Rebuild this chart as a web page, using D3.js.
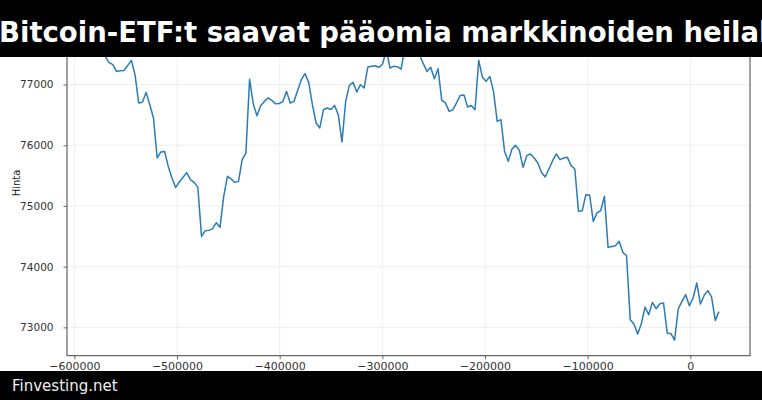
<!DOCTYPE html>
<html><head><meta charset="utf-8">
<script src="https://cdn.jsdelivr.net/npm/d3@7"></script>
<style>
html,body{margin:0;padding:0;background:#fff;}
svg{display:block;}
</style></head>
<body>
<script>
const titleText = "Bitcoin-ETF:t saavat pääomia markkinoiden heilahteluista";
const footerText = "Finvesting.net";
const yLabel = "Hinta";
const xTicks = [-600000, -500000, -400000, -300000, -200000, -100000, 0];
const yTicks = [73000, 74000, 75000, 76000, 77000];
const xValues = [-576900,-573300,-569700,-566100,-562500,-558900,-555300,-551700,-548100,-544500,
-540900,-537300,-533700,-530100,-526500,-522900,-519300,-515700,-512100,-508500,
-504900,-501300,-497700,-494100,-490500,-486900,-483300,-479700,-476100,-472500,
-468900,-465300,-461700,-458100,-454500,-450900,-447300,-443700,-440100,-436500,
-432900,-429300,-425700,-422100,-418500,-414900,-411300,-407700,-404100,-400500,
-396900,-393300,-389700,-386100,-382500,-378900,-375300,-371700,-368100,-364500,
-360900,-357300,-353700,-350100,-346500,-342900,-339300,-335700,-332100,-328500,
-324900,-321300,-317700,-314100,-310500,-306900,-303300,-299700,-296100,-292500,
-288900,-285300,-281700,-278100,-274500,-270900,-267300,-263700,-260100,-256500,
-252900,-249300,-245700,-242100,-238500,-234900,-231300,-227700,-224100,-220500,
-216900,-213300,-209700,-206100,-202500,-198900,-195300,-191700,-188100,-184500,
-180900,-177300,-173700,-170100,-166500,-162900,-159300,-155700,-152100,-148500,
-144900,-141300,-137700,-134100,-130500,-126900,-123300,-119700,-116100,-112500,
-108900,-105300,-101700,-98100,-94500,-90900,-87300,-83700,-80100,-76500,
-72900,-69300,-65700,-62100,-58500,-54900,-51300,-47700,-44100,-40500,
-36900,-33300,-29700,-26100,-22500,-18900,-15300,-11700,-8100,-4500,
-900,2700,6300,9900,13500,17100,20700,24300,27900];
const prices = [77965,77657,77460,77361,77328,77217,77229,77232,77311,77399,
77163,76697,76707,76871,76669,76450,75791,75890,75899,75652,
75461,75306,75395,75474,75549,75433,75389,75306,74499,74593,
74598,74626,74725,74647,75158,75488,75445,75389,75405,75763,
75870,77088,76680,76488,76652,76723,76779,76740,76685,76688,
76718,76888,76697,76723,76904,77081,77180,77036,76669,76367,
76285,76586,76614,76590,76657,76504,76054,76723,76987,77036,
76878,76998,76944,77290,77300,77311,77283,77339,77575,77273,
77300,77295,77254,77608,77707,77772,77674,77492,77344,77217,
77285,77097,77262,76740,76697,76558,76586,76700,76822,76830,
76631,76657,76586,77399,77119,77053,77135,76888,76394,76422,
75899,75735,75939,75998,75916,75636,75829,75857,75791,75708,
75553,75478,75609,75746,75857,75763,75791,75801,75664,75609,
74911,74920,75186,75181,74746,74885,74922,75158,74318,74334,
74346,74417,74236,74181,73127,73056,72891,73061,73336,73209,
73412,73308,73390,73402,72908,72896,72792,73308,73428,73539,
73357,73484,73731,73385,73530,73605,73501,73115,73259];

const W = 762, H = 400;
const m = {left: 67, right: 12, top: 10.3, bottom: 44.3};
const svg = d3.select("body").append("svg").attr("width", W).attr("height", H)
  .style("font-family", "'DejaVu Sans', sans-serif");

function padded(ext){ const r = ext[1]-ext[0]; return [ext[0]-0.05*r, ext[1]+0.05*r]; }
const x = d3.scaleLinear().domain(padded(d3.extent(xValues))).range([m.left, W - m.right]);
const y = d3.scaleLinear().domain(padded(d3.extent(prices))).range([H - m.bottom, m.top]);
const fmt = v => (v < 0 ? "\u2212" : "") + Math.abs(v);

// grid
const grid = svg.append("g");
grid.selectAll("line.gx").data(xTicks).join("line")
  .attr("x1", d => x(d)).attr("x2", d => x(d)).attr("y1", m.top).attr("y2", H - m.bottom)
  .attr("stroke", "#ebebeb").attr("stroke-width", 0.8);
grid.selectAll("line.gy").data(yTicks).join("line")
  .attr("y1", d => y(d)).attr("y2", d => y(d)).attr("x1", m.left).attr("x2", W - m.right)
  .attr("stroke", "#ebebeb").attr("stroke-width", 0.8);

// line
const pts = xValues.map((v, i) => [v, prices[i]]);
svg.append("path").datum(pts)
  .attr("fill", "none").attr("stroke", "#2a7bb8").attr("stroke-width", 1.5)
  .attr("stroke-linejoin", "round")
  .attr("d", d3.line().x(d => x(d[0])).y(d => y(d[1])));

// axes
const xAxis = d3.axisBottom(x).tickValues(xTicks).tickFormat(fmt).tickSize(3.5).tickPadding(3);
const yAxis = d3.axisLeft(y).tickValues(yTicks).tickFormat(fmt).tickSize(3.5).tickPadding(10);
const gx = svg.append("g").attr("transform", `translate(0,${H - m.bottom})`).call(xAxis);
const gy = svg.append("g").attr("transform", `translate(${m.left},0)`).call(yAxis);
[gx, gy].forEach(g => {
  g.select(".domain").remove();
  g.selectAll(".tick line").attr("stroke", "#444").attr("stroke-width", 0.8);
  g.selectAll(".tick text").attr("fill", "#333").style("font-family", "'DejaVu Sans', sans-serif");
});
gx.selectAll(".tick text").style("font-size", "11px");
gy.selectAll(".tick text").style("font-size", "10.5px");
// spines
svg.append("rect").attr("x", m.left).attr("y", m.top)
  .attr("width", W - m.right - m.left).attr("height", H - m.bottom - m.top)
  .attr("fill", "none").attr("stroke", "#444").attr("stroke-width", 1);

svg.append("text").attr("transform", `translate(16,${(m.top + H - m.bottom)/2}) rotate(-90)`)
  .attr("text-anchor", "middle").attr("dy", "0.35em").style("font-size", "10px").attr("fill", "#222").text(yLabel);

// header / footer bars
svg.append("rect").attr("x", 0).attr("y", 0).attr("width", W).attr("height", 57).attr("fill", "#000");
svg.append("text").attr("x", -1).attr("y", 42).attr("fill", "#fff")
  .style("font-size", "27.5px").style("font-weight", "bold").text(titleText);
svg.append("rect").attr("x", 0).attr("y", 371).attr("width", W).attr("height", 29).attr("fill", "#000");
svg.append("text").attr("x", 12).attr("y", 391).attr("fill", "#eee")
  .style("font-size", "15px").text(footerText);
</script>
</body></html>
